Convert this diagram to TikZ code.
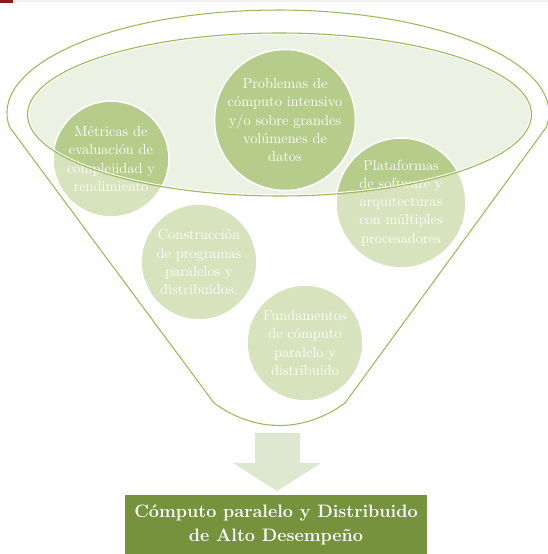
\documentclass[tikz,border=0pt]{standalone}
\usepackage{fontspec}
\usepackage{tikz}
\definecolor{rimgreen}{HTML}{9BBB59}
\definecolor{mouthfill}{HTML}{EBF1E3}
\definecolor{topiclight}{HTML}{D6E3BC}
\definecolor{topicdark}{HTML}{B5CC8A}
\definecolor{arrowfill}{HTML}{DDE8D1}
\definecolor{goalfill}{HTML}{76923C}
\definecolor{barred}{HTML}{8B1C1C}
\tikzset{rim/.style = {draw=rimgreen, line width=0.8pt}}
\tikzset{topic/.style = {shape=circle, fill=topiclight, draw=white, line width=1.2pt, text=white, align=center, inner sep=0pt, font=\fontsize{11}{13.6}\selectfont, path picture={\fill[topicdark] (mouth) ellipse [x radius=252, y radius=81.5];}}}
\tikzset{goal/.style = {shape=rectangle, fill=goalfill, text=white, align=center, inner sep=0pt, minimum width=226.5pt, minimum height=44.25pt, font=\fontsize{13.5}{18}\selectfont\bfseries}}

\begin{document}
\begin{tikzpicture}[x=0.75pt, y=0.75pt]
\useasboundingbox (0,0) rectangle (548,554);
% top strip
\fill[gray!10] (0,552) rectangle (548,554);
\fill[barred] (0,551) rectangle (13,554);
% funnel
\draw[rim] (9.5,427) arc [start angle=187.8, end angle=-7.8, x radius=271, y radius=103] -- (345,151) .. controls (304,121) and (255,121) .. (214,151) -- cycle;
\coordinate (mouth) at (279.5,439.5);
\fill[mouthfill] (mouth) ellipse [x radius=252, y radius=81.5];
% topics
\node[topic, minimum size=102pt] (problemas) at (285,434) {Problemas de\\cómputo intensivo\\y/o sobre grandes\\volúmenes de\\datos};
\node[topic, minimum size=87pt] (metricas) at (111,395) {Métricas de\\evaluación de\\complejidad y\\rendimiento};
\node[topic, minimum size=97.5pt] (plataformas) at (401,351) {Plataformas\\de software y\\arquitecturas\\con múltiples\\procesadores};
\node[topic, minimum size=87pt] (construccion) at (199,292) {Construcción\\de programas\\paralelos y\\distribuidos.};
\node[topic, minimum size=87pt] (fundamentos) at (305,211) {Fundamentos\\de cómputo\\paralelo y\\distribuido};
% rim of the mouth
\draw[white, line width=0.8pt] (mouth) ellipse [x radius=250.8, y radius=80.3];
\draw[rim] (mouth) ellipse [x radius=252, y radius=81.5];
% arrow and goal
\fill[arrowfill] (255,121) -- (300,121) -- (300,91) -- (321,91) -- (277,63) -- (233,91) -- (255,91) -- cycle;
\node[goal] (goal) at (276,29.5) {Cómputo paralelo y Distribuido\\de Alto Desempeño};
\end{tikzpicture}
\end{document}
